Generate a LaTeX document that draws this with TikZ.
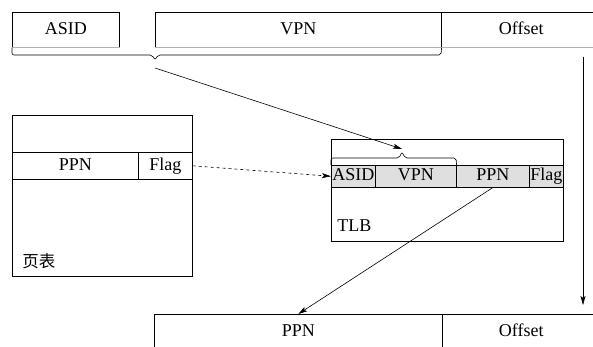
\documentclass[tikz,border=0pt]{standalone}
\usepackage{fontspec}
\setmainfont{Liberation Serif}
\newfontfamily\cjkfont{Noto Sans CJK SC}
\usetikzlibrary{arrows.meta}
\begin{document}
\begin{tikzpicture}[x=1pt,y=-1pt,line width=0.6pt,>={Stealth[length=9pt,width=5pt,inset=2pt]},font=\fontsize{18}{20}\selectfont]
\tikzstyle{cell}=[draw, inner sep=0pt, anchor=north west, text height=12.5pt, text depth=3.5pt]
\tikzstyle{top cell}=[cell, minimum height=35pt]
\tikzstyle{tlb cell}=[cell, fill=gray!25, minimum height=22pt]
\useasboundingbox (0,0) rectangle (593,347);
\clip (0,0) rectangle (593,347);

% virtual address
\node[top cell, minimum width=107pt] (asid) at (12,12) {ASID};
\node[top cell, minimum width=286pt] (vpn) at (155,12) {VPN};
\node[top cell, minimum width=160pt] (offset) at (441,12) {Offset};
\draw[gray!60] (asid.south west) -- (asid.south east);
\draw[gray!60] (vpn.south west) -- (offset.south east);
\draw[rounded corners=2pt] (asid.south west) -- (12,55) -- (152,55) -- (155,60) -- (158,55) -- (441,55) -- (vpn.south east);
\coordinate (vtip) at (155,68);
\coordinate (otop) at (583,57);
\coordinate (obot) at (583,305);

% page table
\node[cell, minimum width=180pt, minimum height=161pt] (ptab) at (12,115) {};
\node[cell, minimum width=126pt, minimum height=27pt] (pppn) at (12,152) {PPN};
\node[cell, minimum width=54pt, minimum height=27pt] (pflag) at (138,152) {Flag};
\node[anchor=west, inner sep=0pt, font=\cjkfont\fontsize{16.5}{18}\selectfont] (plabel) at (22,261) {页表};

% TLB
\node[cell, minimum width=232pt, minimum height=102pt] (tlb) at (331,139) {};
\node[tlb cell, minimum width=44pt] (tasid) at (331,165) {ASID};
\node[tlb cell, minimum width=81pt] (tvpn) at (375,165) {VPN};
\node[tlb cell, minimum width=73pt] (tppn) at (456,165) {PPN};
\node[tlb cell, minimum width=34pt] (tflag) at (529,165) {Flag};
\node[anchor=west, inner sep=0pt] (tlabel) at (337,226) {TLB};
\draw[rounded corners=2pt] (tasid.north west) -- (331,158) -- (399,158) -- (402,152) -- (405,158) -- (456,158) -- (tvpn.north east);
\coordinate (ttip) at (402,149);

% physical address
\node[cell, minimum width=288pt, minimum height=36pt] (bppn) at (154,314) {PPN};
\node[cell, minimum width=158pt, minimum height=36pt] (boff) at (442,314) {Offset};

\draw[->] (vtip) -- (ttip);
\draw[->, dashed] (pflag.east) -- (tasid.west);
\draw[->] (tppn.south) -- (bppn.north);
\draw[->] (otop) -- (obot);
\end{tikzpicture}
\end{document}
